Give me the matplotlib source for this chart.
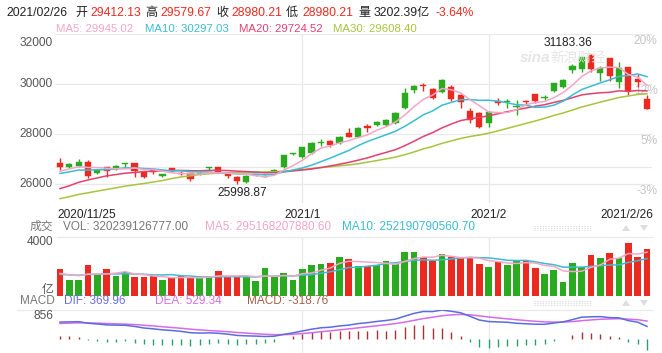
import numpy as np
import matplotlib
matplotlib.use('Agg')
import matplotlib.pyplot as plt
from matplotlib.patches import Rectangle, Polygon

W, H = 662, 353
plt.rcParams['font.family'] = ['Liberation Sans', 'Noto Sans CJK SC', 'DejaVu Sans']

# ---------------- data ----------------
dates = ['2020-11-25', '2020-11-26', '2020-11-27', '2020-11-30', '2020-12-01', '2020-12-02',
         '2020-12-03', '2020-12-04', '2020-12-07', '2020-12-08', '2020-12-09', '2020-12-10',
         '2020-12-11', '2020-12-14', '2020-12-15', '2020-12-16', '2020-12-17', '2020-12-18',
         '2020-12-21', '2020-12-22', '2020-12-23', '2020-12-24', '2020-12-28', '2020-12-29',
         '2020-12-30', '2020-12-31', '2021-01-04', '2021-01-05', '2021-01-06', '2021-01-07',
         '2021-01-08', '2021-01-11', '2021-01-12', '2021-01-13', '2021-01-14', '2021-01-15',
         '2021-01-18', '2021-01-19', '2021-01-20', '2021-01-21', '2021-01-22', '2021-01-25',
         '2021-01-26', '2021-01-27', '2021-01-28', '2021-01-29', '2021-02-01', '2021-02-02',
         '2021-02-03', '2021-02-04', '2021-02-05', '2021-02-08', '2021-02-09', '2021-02-10',
         '2021-02-11', '2021-02-16', '2021-02-17', '2021-02-18', '2021-02-19', '2021-02-22',
         '2021-02-23', '2021-02-24', '2021-02-25', '2021-02-26']

opens = [26840, 26680, 26720, 26880, 26440, 26680, 26600, 26820, 26840, 26480,
         26560, 26340, 26640, 26460, 26440, 26400, 26640, 26680, 26400, 26280,
         26080, 26360, 26290, 26500, 26680, 27200, 27080, 27240, 27640, 27720,
         27640, 28060, 27900, 28320, 28380, 28380, 28440, 29040, 29760, 29960,
         29800, 29680, 29880, 29560, 28920, 28840, 28440, 29320, 29290, 29100,
         29320, 29600, 29440, 29720, 29880, 30560, 30600, 31160, 30450, 31040,
         30100, 30680, 30200, 29412.13]
highs = [27040, 26840, 27000, 26960, 26600, 26700, 26760, 26840, 26860, 26500,
         26600, 26420, 26660, 26520, 26460, 26480, 26700, 26700, 26440, 26320,
         26360, 26420, 26380, 26620, 27160, 27260, 27500, 27700, 27800, 27760,
         27920, 28230, 28300, 28400, 28520, 28600, 28880, 29840, 29960, 30040,
         29840, 30200, 29960, 29600, 29040, 28900, 28920, 29440, 29400, 29360,
         29380, 29620, 29560, 30060, 30200, 30800, 31100, 31183.36, 30720, 31060,
         30880, 30700, 30400, 29579.67]
lows = [26560, 26640, 26700, 26240, 26400, 26300, 26560, 26640, 26280, 26260,
        26420, 26300, 26480, 26360, 26140, 26380, 26560, 26440, 26260, 25998.87,
        26060, 26330, 26280, 26480, 26660, 27160, 27060, 27200, 27540, 27500,
        27600, 27880, 27880, 28100, 28340, 28340, 28400, 29000, 29640, 29720,
        29400, 29640, 29340, 29040, 28440, 28240, 28300, 29160, 29040, 28760,
        29200, 29240, 29380, 29680, 29860, 30460, 30500, 30500, 30120, 30120,
        29860, 29560, 29880, 28980.21]
closes = [26670, 26820, 26890, 26340, 26570, 26530, 26730, 26840, 26510, 26300,
          26500, 26410, 26505, 26390, 26210, 26460, 26680, 26500, 26310, 26120,
          26340, 26390, 26314, 26570, 27150, 27230, 27470, 27650, 27690, 27550,
          27880, 27900, 28260, 28230, 28490, 28570, 28860, 29640, 29930, 29920,
          29450, 30160, 29390, 29300, 28550, 28280, 28890, 29250, 29310, 29110,
          29290, 29320, 29480, 30040, 30170, 30740, 31080, 30595, 30640, 30320,
          30632, 29720, 30074, 28980.21]
# turnover, 亿
volumes = [1800, 1070, 1070, 2070, 1470, 1800, 1330, 1600, 1270, 1270,
           1330, 1070, 1270, 1330, 1270, 1200, 1330, 1670, 1330, 1270,
           1270, 1000, 1870, 1270, 1530, 1070, 1800, 2130, 2200, 2270,
           2670, 2510, 2020, 2020, 2110, 2400, 2180, 3000, 3000, 2620,
           2360, 2840, 2620, 2580, 2620, 2180, 2000, 2290, 2110, 2450,
           2450, 1890, 1470, 1760, 950, 2220, 2000, 2800, 2560, 2890,
           2580, 3560, 2620, 3202.39]
# sessions before the window (for the moving averages / MACD)
prior_closes = [24440, 24158, 24386, 24542, 24569, 24754, 24786, 24918, 24787, 24709,
                24586, 24107, 24460, 24939, 24886, 25695, 25712, 26016, 25487, 26226,
                26170, 26156, 26381, 26415, 26544, 26356, 26451, 26486, 26588]
prior_volumes = [1400, 1350, 1500, 1450, 1300, 1500, 1400, 1550, 1400]

tick_labels = ['2020/11/25', '2021/1', '2021/2', '2021/2/26']
tick_dates = ['2020-11-25', '2021-01-04', '2021-02-01', '2021-02-26']
price_ticks = [32000, 30000, 28000, 26000]

header_items = [('2021/02/26', 'k'), ('开', 'k'), ('29412.13', 'r'), ('高', 'k'), ('29579.67', 'r'),
                ('收', 'k'), ('28980.21', 'r'), ('低', 'k'), ('28980.21', 'r'), ('量', 'k'),
                ('3202.39亿', 'k'), ('-3.64%', 'r')]
ma_labels = ['MA5: 29945.02', 'MA10: 30297.03', 'MA20: 29724.52', 'MA30: 29608.40']
vol_labels = ['VOL: 320239126777.00', 'MA5: 295168207880.60', 'MA10: 252190790560.70']
macd_labels = ['DIF: 369.96', 'DEA: 529.34', 'MACD: -318.76']

# ---------------- derived ----------------
n = len(closes)
idx = np.arange(n)
full_c = np.array(prior_closes + closes, float)
full_v = np.array(prior_volumes + volumes, float)
npc = len(prior_closes)
npv = len(prior_volumes)

def ma(arr, k, off):
    return np.array([arr[off + i - k + 1: off + i + 1].mean() for i in range(n)])

ma5, ma10, ma20, ma30 = (ma(full_c, k, npc) for k in (5, 10, 20, 30))
vma5, vma10 = ma(full_v, 5, npv), ma(full_v, 10, npv)

def ema(arr, k):
    a = 2.0 / (k + 1)
    out = [arr[0]]
    for v in arr[1:]:
        out.append(a * v + (1 - a) * out[-1])
    return np.array(out)

dif_full = ema(full_c, 12) - ema(full_c, 26)
dea_full = ema(dif_full, 9)
dif = dif_full[npc:]
dea = dea_full[npc:]
hist = 2 * (dif - dea)

# ---------------- style ----------------
RED = '#ea2a20'
GREEN = '#2aaa1e'
C_MA5 = '#f4a6c6'
C_MA10 = '#3bbcd4'
C_MA20 = '#e2406f'
C_MA30 = '#a8c43c'
GRID = '#e9e9e9'
LBL = '#555555'

fig = plt.figure(figsize=(W / 100, H / 100), dpi=100)
fig.patch.set_facecolor('white')

def add_ax(l, t, r, b):
    a = fig.add_axes([l / W, 1 - b / H, (r - l) / W, (b - t) / H])
    a.set_axis_off()
    return a

def txt(x, y, s, **kw):
    kw.setdefault('va', 'center')
    fig.text(x / W, 1 - y / H, s, **kw)

def hline(x0, x1, y):
    fig.add_artist(plt.Line2D([x0 / W, x1 / W], [1 - y / H] * 2, color=GRID, lw=0.9, zorder=0))

X0, X1 = 55, 652
XP = 9.32
xmin = -(60 - X0) / XP
xmax = (n - 1) + (X1 - 647) / XP

def buttons(y):
    # dotted control strip and arrows at the top right of a sub panel
    for dy in (-2, 0, 2):
        fig.add_artist(plt.Line2D([534 / W, 592 / W], [1 - (y + dy) / H] * 2,
                                  color='#d9d9d9', lw=0.8, ls=(0, (1, 1.5))))
    for cx, up in ((626, True), (644, False)):
        if up:
            pts = [(cx - 4, y + 3), (cx + 4, y + 3), (cx, y - 3)]
        else:
            pts = [(cx - 4, y - 3), (cx + 4, y - 3), (cx, y + 3)]
        fig.add_artist(Polygon([(px / W, 1 - py / H) for px, py in pts], closed=True,
                               facecolor='#dedede', edgecolor='none', transform=fig.transFigure))

# ----- main price panel -----
ax = add_ax(X0, 34, X1, 203)
ax.set_xlim(xmin, xmax)
ax.set_ylim(25240, 32000)
for v in price_ticks:
    ax.axhline(v, color=GRID, lw=0.9, zorder=0)
ax.axhline(closes[0], color=GRID, lw=0.9, zorder=0)
mon_idx = [dates.index(d) for d in tick_dates[1:3]]
for m in mon_idx:
    ax.axvline(m, color=GRID, lw=0.9, zorder=0)

# right percent labels (drawn under the marks)
base = closes[0]
for v in price_ticks:
    pct = (v / base - 1) * 100
    ax.annotate(f'{pct:.0f}%', (1.0, v), xycoords=('axes fraction', 'data'),
                xytext=(4, -1), textcoords='offset points', ha='right', va='top',
                fontsize=8.6, color='#c4c4c4', zorder=1, annotation_clip=False)

bw = 0.66
for i in range(n):
    up = closes[i] >= opens[i]
    col = GREEN if up else RED
    ax.plot([i, i], [lows[i], highs[i]], color=col, lw=1.0, zorder=2, solid_capstyle='butt')
    lo = min(opens[i], closes[i])
    h = max(abs(closes[i] - opens[i]), 35)
    ax.add_patch(Rectangle((i - bw / 2, lo), bw, h, facecolor=col, edgecolor=col, lw=0.3, zorder=3))

ax.plot(idx, ma30, color=C_MA30, lw=1.1, zorder=4)
ax.plot(idx, ma20, color=C_MA20, lw=1.1, zorder=4)
ax.plot(idx, ma10, color=C_MA10, lw=1.1, zorder=4)
ax.plot(idx, ma5, color=C_MA5, lw=1.1, zorder=4)

ihi = int(np.argmax(highs))
ilo = int(np.argmin(lows))
ax.annotate(f'{highs[ihi]:.2f}', (ihi, highs[ihi]), xytext=(1, 4), textcoords='offset points',
            ha='right', va='bottom', fontsize=8.6, color='#222222')
ax.annotate(f'{lows[ilo]:.2f}', (ilo, lows[ilo]), xytext=(4, -2), textcoords='offset points',
            ha='center', va='top', fontsize=8.6, color='#222222')

# watermark
txt(520, 58, 'sina', fontsize=11, color='#e6e6e6', style='italic', weight='bold')
txt(550, 58, '新浪财经', fontsize=10, color='#e6e6e6')

# left price labels
for v, y in zip(price_ticks, (43, 84, 134, 184)):
    txt(53, y, f'{v}', ha='right', fontsize=8.6, color=LBL)

# x labels
for lab, d, ha in zip(tick_labels, tick_dates, ['left', 'center', 'center', 'right']):
    i = dates.index(d)
    px = 60 + XP * i
    if ha == 'left':
        px -= 3
    if ha == 'right':
        px += 6
    txt(px, 215, lab, ha=ha, fontsize=8.6, color='#222222')

# ----- header -----
hx = [6, 75, 90, 145, 160, 216, 231, 286, 302, 358, 374, 436]
for (s, c), x in zip(header_items, hx):
    txt(x, 13, s, fontsize=8.7, color=(RED if c == 'r' else '#222222'))
for s, x, c in zip(ma_labels, [56, 145, 239, 333], [C_MA5, C_MA10, C_MA20, C_MA30]):
    txt(x, 29, s, fontsize=8.2, color=c)

# ----- volume panel -----
axv = add_ax(X0, 237, X1, 296)
axv.set_xlim(xmin, xmax)
axv.set_ylim(0, 4000)
hline(57, X1, 237)
for m in mon_idx:
    axv.axvline(m, color=GRID, lw=0.9, zorder=0)
vcols = [GREEN if closes[i] >= opens[i] else RED for i in range(n)]
axv.bar(idx, volumes, width=0.72, color=vcols, zorder=2)
axv.plot(idx, vma10, color=C_MA10, lw=1.1, zorder=3)
axv.plot(idx, vma5, color=C_MA5, lw=1.1, zorder=3)
txt(30, 227, '成交', fontsize=8.5, color='#777777')
for s, x, c in zip(vol_labels, [63, 205, 342], ['#777777', C_MA5, C_MA10]):
    txt(x, 227, s, fontsize=8.5, color=c)
txt(53, 242, '4000', ha='right', fontsize=8.6, color=LBL)
txt(54, 290, '亿', ha='right', fontsize=8.6, color=LBL)
buttons(228)

# ----- MACD panel -----
axm = add_ax(X0, 310, X1, 353)
axm.set_xlim(xmin, xmax)
axm.set_ylim(-413, 856)
hline(17, X1, 310)
for m in mon_idx:
    axm.axvline(m, color=GRID, lw=0.9, zorder=0)
hcols = ['#a83232' if h >= 0 else '#2e9e6c' for h in hist]
axm.vlines(idx, 0, hist, colors=hcols, lw=1.0, zorder=2)
axm.plot(idx, dea, color='#d66be6', lw=1.1, zorder=3)
axm.plot(idx, dif, color='#5a6ce0', lw=1.1, zorder=3)
txt(20, 301, 'MACD', fontsize=8.5, color='#777777')
for s, x, c in zip(macd_labels, [64, 155, 247], ['#6a6ee0', '#d070e0', '#a0604a']):
    txt(x, 301, s, fontsize=8.5, color=c)
txt(53, 316, '856', ha='right', fontsize=8.6, color=LBL)
buttons(303)

fig.savefig('out.png', dpi=100, facecolor='white')
